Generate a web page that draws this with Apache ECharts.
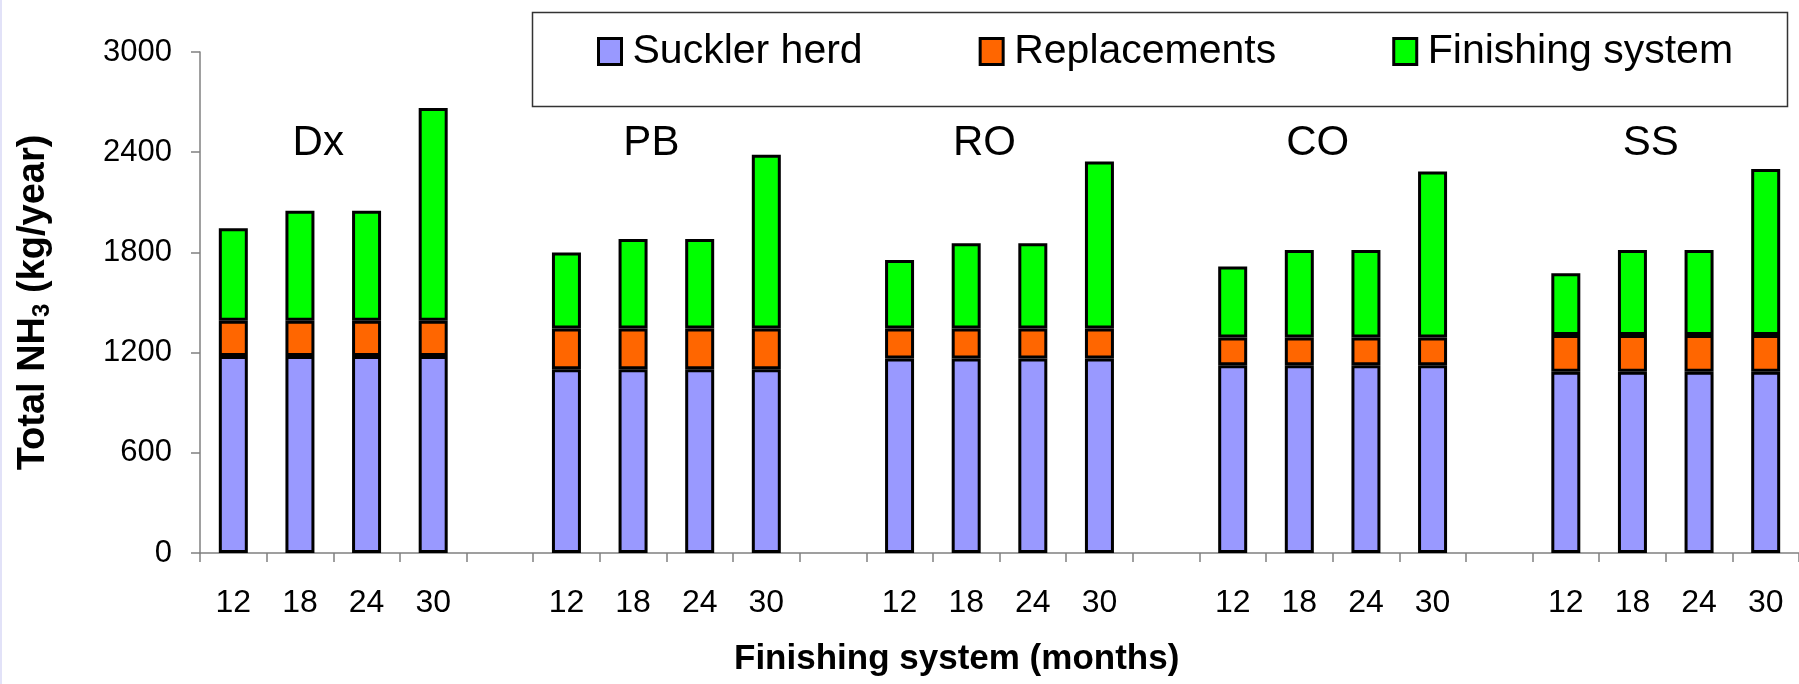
<!DOCTYPE html>
<html>
<head>
<meta charset="utf-8">
<title>Total NH3</title>
<script src="https://cdn.jsdelivr.net/npm/echarts@6/dist/echarts.min.js"></script>
<style>
html, body { margin: 0; padding: 0; background: #fff; }
#main { width: 1799px; height: 684px; }
</style>
</head>
<body>
<div id="main"></div>
<script>
// groups and finishing ages
var groups = ['Dx', 'PB', 'RO', 'CO', 'SS'];
var months = ['12', '18', '24', '30'];
// kg NH3 per year
var suckler = [1180, 1100, 1165, 1125, 1085];
var replacements = [210, 245, 180, 165, 220];
var finishing = [
  [555, 660, 660, 1275],
  [455, 535, 535, 1040],
  [410, 510, 510, 1000],
  [425, 525, 525, 995],
  [370, 510, 510, 995]
];
var yTicks = [0, 600, 1200, 1800, 2400, 3000];
var groupLabelValue = 2450;

var FONT = "'Liberation Sans', Arial, sans-serif";

// one empty slot between the groups
var categories = [];
var sucklerData = [], replData = [], finData = [];
var groupSlots = [];
for (var g = 0; g < groups.length; g++) {
  if (g > 0) {
    categories.push('');
    sucklerData.push('-');
    replData.push('-');
    finData.push('-');
  }
  groupSlots.push(categories.length);
  for (var m = 0; m < months.length; m++) {
    categories.push(months[m]);
    sucklerData.push(suckler[g]);
    replData.push(replacements[g]);
    finData.push(finishing[g][m]);
  }
}

function barSeries(name, color, data) {
  return {
    name: name,
    type: 'bar',
    stack: 'total',
    barWidth: 29,
    data: data,
    itemStyle: { color: color, borderColor: '#000', borderWidth: 3 }
  };
}

var baseGraphic = [
  { type: 'rect', shape: { x: 0, y: 0, width: 2, height: 684 }, style: { fill: '#e2e2f8' } },
  { type: 'rect', shape: { x: 532.5, y: 12.5, width: 1255, height: 94 },
    style: { fill: 'none', stroke: '#333', lineWidth: 1.5 } }
];

var chart = echarts.init(document.getElementById('main'));
var option = {
  animation: false,
  backgroundColor: '#fff',
  title: {
    text: 'Finishing system (months)',
    left: 734,
    top: 642,
    padding: 0,
    textStyle: { fontSize: 35, fontWeight: 'bold', color: '#000', fontFamily: FONT }
  },
  legend: {
    data: ['Suckler herd', 'Replacements', 'Finishing system'],
    left: 597,
    top: 31,
    padding: 0,
    itemGap: 116,
    itemWidth: 23,
    itemHeight: 26,
    icon: 'rect',
    itemStyle: { borderColor: '#000', borderWidth: 3 },
    textStyle: { fontSize: 41, color: '#000', fontFamily: FONT, padding: [0, 0, 14, 6] }
  },
  grid: { left: 200, top: 52, width: 1600, height: 501 },
  xAxis: {
    type: 'category',
    data: categories,
    boundaryGap: true,
    axisLine: { lineStyle: { color: '#808080', width: 1.5 } },
    axisTick: { show: true, interval: 0, length: 9, lineStyle: { color: '#808080', width: 1.5 } },
    axisLabel: { interval: 0, margin: 34, fontSize: 32, color: '#000', fontFamily: FONT }
  },
  yAxis: {
    type: 'value',
    min: yTicks[0],
    max: yTicks[yTicks.length - 1],
    interval: yTicks[1] - yTicks[0],
    name: '{a|Total NH}{s|3}{a| (kg/year)}',
    nameLocation: 'middle',
    nameRotate: 90,
    nameGap: 146,
    nameTextStyle: {
      rich: {
        a: { fontSize: 38, fontWeight: 'bold', color: '#000', fontFamily: FONT },
        s: { fontSize: 24, fontWeight: 'bold', color: '#000', fontFamily: FONT, verticalAlign: 'bottom', padding: [16, 0, 0, 0] }
      }
    },
    axisLine: { show: true, lineStyle: { color: '#808080', width: 1.5 } },
    axisTick: { show: true, length: 9, lineStyle: { color: '#808080', width: 1.5 } },
    splitLine: { show: false },
    axisLabel: {
      margin: 28, fontSize: 31, color: '#000', fontFamily: FONT,
      formatter: function (v) { return String(v); }
    }
  },
  series: [
    barSeries('Suckler herd', '#9999ff', sucklerData),
    barSeries('Replacements', '#ff6600', replData),
    barSeries('Finishing system', '#00ff00', finData)
  ],
  graphic: { elements: baseGraphic }
};
chart.setOption(option);

// group names sit above each group of four bars
var labelY = chart.convertToPixel({ yAxisIndex: 0 }, groupLabelValue);
var labels = groups.map(function (name, i) {
  var a = chart.convertToPixel({ xAxisIndex: 0 }, groupSlots[i] + 1);
  var b = chart.convertToPixel({ xAxisIndex: 0 }, groupSlots[i] + 2);
  return {
    type: 'text',
    x: (a + b) / 2 - 15,
    y: labelY,
    style: {
      text: name, fontSize: 42, fontFamily: FONT, fill: '#000',
      textAlign: 'center', align: 'center', textVerticalAlign: 'middle', verticalAlign: 'middle'
    }
  };
});
chart.setOption({ graphic: { elements: baseGraphic.concat(labels) } });
</script>
</body>
</html>
